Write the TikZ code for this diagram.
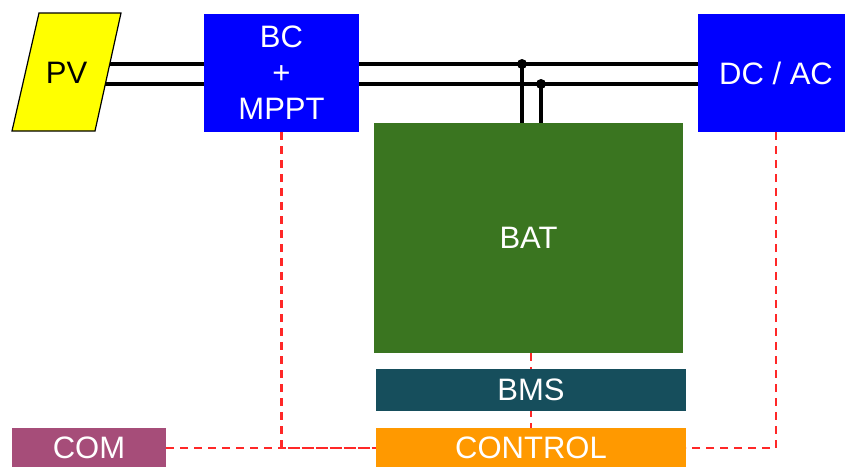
\documentclass[tikz,border=0pt]{standalone}
\usepackage{fontspec}
\setmainfont{Liberation Sans}
\usetikzlibrary{backgrounds}
\definecolor{pvyellow}{RGB}{255,255,0}
\definecolor{convblue}{RGB}{0,0,255}
\definecolor{batgreen}{RGB}{58,117,32}
\definecolor{bmsteal}{RGB}{22,78,92}
\definecolor{ctrlorange}{RGB}{255,153,0}
\definecolor{compurple}{RGB}{166,77,121}
\definecolor{sigred}{RGB}{255,40,40}
\newcommand\boxfont{\fontsize{31}{36}\selectfont}
\begin{document}
\begin{tikzpicture}[x=1pt,y=-1pt,
  every node/.style={inner sep=0pt,outer sep=0pt,font=\boxfont},
  block/.style={rectangle,fill=#1,text=white},
  power/.style={line width=3.5pt},
  signal/.style={sigred,line width=2.2pt,dash pattern=on 8pt off 6pt}]
\useasboundingbox (0,0) rectangle (845,466);
% solar panel
\draw[fill=pvyellow,line width=1.2pt] (39,13) -- (121,13) -- (95,131) -- (12,131) -- cycle;
\node (pv) at (66.5,73) {PV};
\node[block=convblue,minimum width=155,minimum height=118,align=center] (bc) at (281.5,73) {BC\\+\\MPPT};
\node[block=convblue,minimum width=156,minimum height=118] (dcac) at (776,73) {DC / AC};
\node[block=batgreen,minimum width=309,minimum height=230] (bat) at (528.5,238) {BAT};
\node[block=bmsteal,minimum width=310,minimum height=42] (bms) at (531,390) {BMS};
\node[block=ctrlorange,minimum width=310,minimum height=40] (control) at (531,448) {CONTROL};
\node[block=compurple,minimum width=154,minimum height=40] (com) at (89,448) {COM};
\coordinate (j1) at (522,64);
\coordinate (j2) at (541,84);
\begin{scope}[on background layer]
% DC bus
\draw[power] (pv |- j1) -- (dcac |- j1);
\draw[power] (pv |- j2) -- (dcac |- j2);
\draw[power] (j1) -- (j1 |- bat.north);
\draw[power] (j2) -- (j2 |- bat.north);
% control lines
\draw[signal] (bc.south) |- (control.west);
\draw[signal] (com.east) -- (control.west);
\draw[signal] (dcac.south) |- (control.east);
\draw[signal] (bat.south -| control) -- (control);
\end{scope}
\fill (j1) circle (5);
\fill (j2) circle (5);
\end{tikzpicture}
\end{document}
